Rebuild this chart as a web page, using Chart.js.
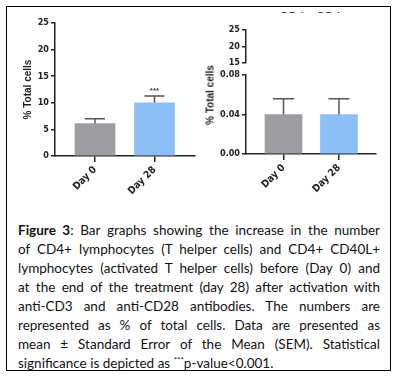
<!DOCTYPE html>
<html>
<head>
<meta charset="utf-8">
<script src="https://cdn.jsdelivr.net/npm/chart.js@4.4.1/dist/chart.umd.min.js"></script>
<style>
  html, body { margin: 0; padding: 0; background: #fff; }
  #page { position: relative; width: 397px; height: 379px; overflow: hidden; background: #fff; }
  #frame { position: absolute; left: 6px; top: 6px; width: 385px; height: 365px; border: 1.5px solid #000; box-sizing: border-box; }
  canvas { position: absolute; }
  #ytitle2 { position: absolute; left: 210px; top: 95px; transform: translate(-50%, -50%) rotate(-90deg);
    font: bold 10px Arial, 'Liberation Sans', sans-serif; color: #222; white-space: nowrap; }
  #cut { position: absolute; left: 280px; top: 12px; width: 62px; height: 3px; overflow: hidden; }
  #cut span { position: absolute; left: 0; top: -9px; font: bold 11px Arial, 'Liberation Sans', sans-serif; color: #444; white-space: nowrap; letter-spacing: 1px; }
  #cap { position: absolute; left: 18px; top: 221px; width: 362px; font-family: Lato, 'Open Sans', sans-serif; font-size: 13.5px; line-height: 19px; color: #111; }
  #cap div { white-space: nowrap; }
  #cap .j { text-align: justify; text-align-last: justify; }
  #cap sup { font-size: 8px; vertical-align: 5px; line-height: 0; }
</style>
</head>
<body>
<div id="page">
  <div id="frame"></div>
  <div id="cut"><span>CD4+ CD40L+</span></div>
  <canvas id="cd4" width="200" height="200" style="left:0;top:0;width:200px;height:200px"></canvas>
  <canvas id="brk" width="197" height="50" style="left:200px;top:20px;width:197px;height:50px"></canvas>
  <canvas id="cd40l" width="197" height="140" style="left:200px;top:60px;width:197px;height:140px"></canvas>
  <div id="ytitle2">% Total cells</div>
  <div id="cap">
    <div class="j"><b>Figure 3</b>: Bar graphs showing the increase in the number</div>
    <div class="j">of CD4+ lymphocytes (T helper cells) and CD4+ CD40L+</div>
    <div class="j">lymphocytes (activated T helper cells) before (Day 0) and</div>
    <div class="j">at the end of the treatment (day 28) after activation with</div>
    <div class="j">anti-CD3 and anti-CD28 antibodies. The numbers are</div>
    <div class="j">represented as % of total cells. Data are presented as</div>
    <div class="j">mean ± Standard Error of the Mean (SEM). Statistical</div>
    <div>significance is depicted as <sup>***</sup>p-value&lt;0.001.</div>
  </div>
</div>
<script>
var labels = ['Day 0', 'Day 28'];
var barColors = ['#9d9ca1', '#8dbef6'];

// CD4+ (left panel)
var cd4Mean = [6.1, 10.0];
var cd4Sem = [0.9, 1.3];
var cd4Sig = ['', '***'];
var cd4Ticks = [0, 5, 10, 15, 20, 25];

// CD4+ CD40L+ (right panel, broken axis)
var cd40lMean = [0.04, 0.04];
var cd40lSem = [0.016, 0.016];
var cd40lTicks = [0, 0.04, 0.08];
var breakTicks = [15, 20, 25];

var tickFont = { family: "'Liberation Sans Narrow', 'DejaVu Sans Condensed', Arial, sans-serif", size: 9, weight: 'bold' };
var xTickFont = { family: "'Liberation Sans Narrow', 'DejaVu Sans Condensed', Arial, sans-serif", size: 10, weight: 'bold' };
var axisColor = '#222';

// error bars (upper half only) + significance stars
var errBars = {
    id: 'errBars',
    afterDatasetsDraw(chart, args, opts) {
        if (!opts.sem) return;
        var ctx = chart.ctx;
        var y = chart.scales.y;
        var meta = chart.getDatasetMeta(0);
        ctx.save();
        ctx.strokeStyle = '#555';
        ctx.lineWidth = 1.5;
        ctx.fillStyle = '#444';
        ctx.font = 'bold 8px Arial';
        ctx.textAlign = 'center';
        meta.data.forEach(function (bar, i) {
            var top = y.getPixelForValue(opts.mean[i] + opts.sem[i]);
            ctx.beginPath();
            ctx.moveTo(bar.x, bar.y);
            ctx.lineTo(bar.x, top);
            ctx.moveTo(bar.x - opts.cap / 2, top);
            ctx.lineTo(bar.x + opts.cap / 2, top);
            ctx.stroke();
            if (opts.sig && opts.sig[i]) {
                ctx.fillText(opts.sig[i], bar.x, top - 3);
            }
        });
        ctx.restore();
    }
};

function xScale(min, max, height) {
    return {
        type: 'linear',
        min: min,
        max: max,
        offset: false,
        afterBuildTicks: function (s) { s.ticks = labels.map(function (l, i) { return { value: i }; }); },
        afterFit: function (s) { s.height = height; },
        ticks: {
            callback: function (v) { return labels[v]; },
            minRotation: 45, maxRotation: 45, autoSkip: false,
            font: xTickFont, color: axisColor, padding: 2
        },
        grid: { offset: false, drawOnChartArea: false, tickLength: 6, color: axisColor, lineWidth: 1.5 },
        border: { color: axisColor, width: 1.5 }
    };
}

function yScale(min, max, ticks, width, fmt) {
    return {
        min: min,
        max: max,
        afterBuildTicks: function (s) { s.ticks = ticks.map(function (v) { return { value: v }; }); },
        afterFit: function (s) { s.width = width; },
        ticks: { font: tickFont, color: axisColor, padding: 2, callback: fmt },
        grid: { drawOnChartArea: false, tickLength: 4, color: axisColor, lineWidth: 1.5 },
        border: { color: axisColor, width: 1.5 }
    };
}

var ctx1 = document.getElementById('cd4').getContext('2d');
var y1 = yScale(0, 25, cd4Ticks, 37, function (v) { return v; });
y1.title = { display: true, text: '% Total cells', color: axisColor, font: { family: 'Arial', size: 10, weight: 'bold' }, padding: { top: 4, bottom: 2 } };
var cd4Chart = new Chart(ctx1, {
    type: 'bar',
    data: {
        datasets: [{
            data: cd4Mean.map(function (v, i) { return { x: i, y: v }; }),
            backgroundColor: barColors,
            barThickness: 40
        }]
    },
    options: {
        responsive: false,
        animation: false,
        layout: { padding: { left: 18, top: 23, right: 5, bottom: 0 } },
        scales: { x: xScale(-0.672, 1.681, 44), y: y1 },
        plugins: {
            legend: { display: false },
            tooltip: { enabled: false },
            errBars: { mean: cd4Mean, sem: cd4Sem, sig: cd4Sig, cap: 20 }
        }
    },
    plugins: [errBars]
});

// upper segment of the broken axis
var ctx2 = document.getElementById('brk').getContext('2d');
var brkX = xScale(-0.676, 1.667, 0);
brkX.display = false;
var brkChart = new Chart(ctx2, {
    type: 'bar',
    data: { datasets: [{ data: [] }] },
    options: {
        responsive: false,
        animation: false,
        layout: { padding: { left: 20, top: 10, right: 21, bottom: 7 } },
        scales: { x: brkX, y: yScale(15, 25, breakTicks, 26, function (v) { return v; }) },
        plugins: { legend: { display: false }, tooltip: { enabled: false } }
    }
});

var ctx3 = document.getElementById('cd40l').getContext('2d');
var cd40lChart = new Chart(ctx3, {
    type: 'bar',
    data: {
        datasets: [{
            data: cd40lMean.map(function (v, i) { return { x: i, y: v }; }),
            backgroundColor: barColors,
            barThickness: 37
        }]
    },
    options: {
        responsive: false,
        animation: false,
        layout: { padding: { left: 20, top: 15, right: 21, bottom: 0 } },
        scales: {
            x: xScale(-0.676, 1.667, 46),
            y: yScale(0, 0.08, cd40lTicks, 26, function (v) { return v.toFixed(2); })
        },
        plugins: {
            legend: { display: false },
            tooltip: { enabled: false },
            errBars: { mean: cd40lMean, sem: cd40lSem, cap: 21 }
        }
    },
    plugins: [errBars]
});
</script>
</body>
</html>
